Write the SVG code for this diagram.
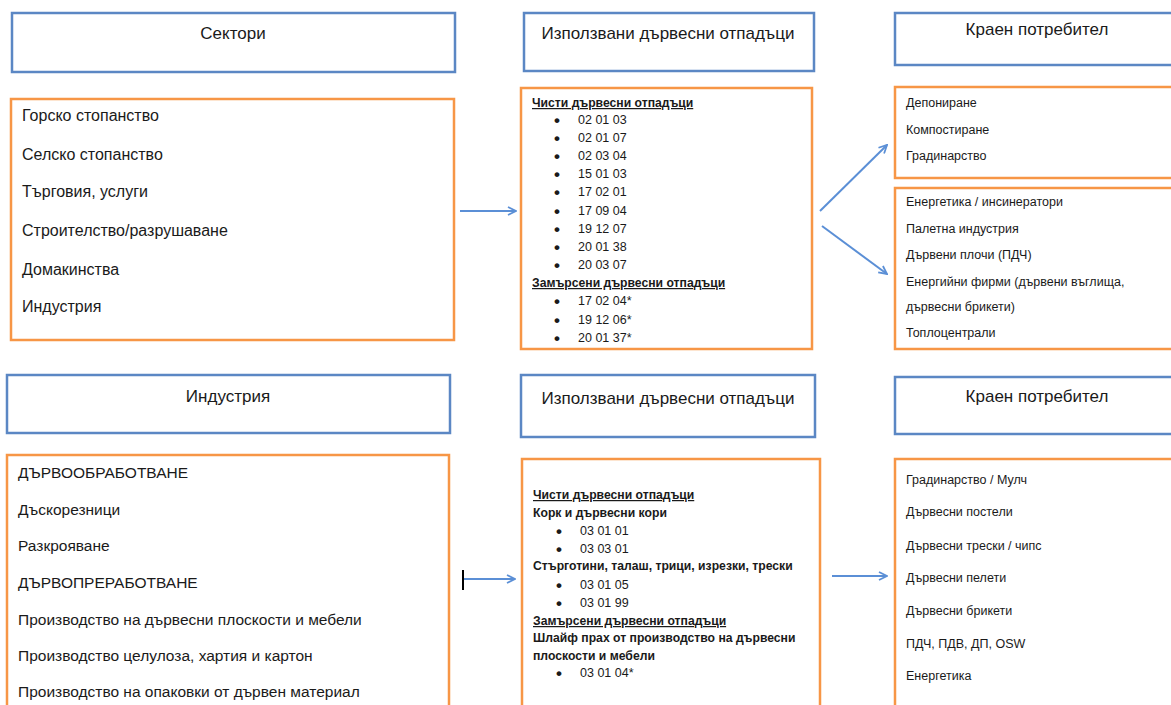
<svg xmlns="http://www.w3.org/2000/svg" width="1171" height="705" viewBox="0 0 1171 705">
<style>
.hdr{fill:#fff;stroke:#5B87C4;stroke-width:2.5}
.box{fill:#fff;stroke:#F79646;stroke-width:2.5}
text{font-family:"Liberation Sans",Arial,sans-serif;fill:#1a1a1a}
.h{font-size:17px;text-anchor:middle}
.l{font-size:16px}
.m{font-size:15.5px}
.s{font-size:12.5px}
.d{font-size:17px;font-weight:bold}
.b{font-size:12.2px;font-weight:bold}
.u{text-decoration:underline}
.c{stroke:#5B8FD6;stroke-width:2;fill:none}
</style>
<defs>
<marker id="ah" viewBox="0 0 10 10" refX="9" refY="5" markerWidth="10" markerHeight="10" markerUnits="userSpaceOnUse" orient="auto">
<path d="M1,1 L9,5 L1,9" fill="none" stroke="#5B8FD6" stroke-width="1.8"/>
</marker>
</defs>
<g id="n-sektori"><rect class="hdr" x="12" y="13" width="443" height="59"/><text class="h" x="233" y="39">Сектори</text></g>
<g id="n-sektori-list"><rect class="box" x="11" y="99" width="443" height="241"/>
<text class="l" x="22" y="121">Горско стопанство</text>
<text class="l" x="22" y="160">Селско стопанство</text>
<text class="l" x="22" y="197">Търговия, услуги</text>
<text class="l" x="22" y="236">Строителство/разрушаване</text>
<text class="l" x="22" y="275">Домакинства</text>
<text class="l" x="22" y="312">Индустрия</text>
</g>
<g id="n-otp1"><rect class="hdr" x="524" y="13" width="290" height="58"/><text class="h" x="668" y="39">Използвани дървесни отпадъци</text></g>
<g id="n-otp1-list"><rect class="box" x="521" y="88" width="291" height="261"/>
<text class="b u" x="532" y="107">Чисти дървесни отпадъци</text>
<text class="d" x="554" y="126">•</text><text class="s" x="578" y="124">02 01 03</text>
<text class="d" x="554" y="144">•</text><text class="s" x="578" y="142">02 01 07</text>
<text class="d" x="554" y="162">•</text><text class="s" x="578" y="160">02 03 04</text>
<text class="d" x="554" y="180">•</text><text class="s" x="578" y="178">15 01 03</text>
<text class="d" x="554" y="198">•</text><text class="s" x="578" y="196">17 02 01</text>
<text class="d" x="554" y="217">•</text><text class="s" x="578" y="215">17 09 04</text>
<text class="d" x="554" y="235">•</text><text class="s" x="578" y="233">19 12 07</text>
<text class="d" x="554" y="253">•</text><text class="s" x="578" y="251">20 01 38</text>
<text class="d" x="554" y="271">•</text><text class="s" x="578" y="269">20 03 07</text>
<text class="b u" x="532" y="287">Замърсени дървесни отпадъци</text>
<text class="d" x="554" y="307">•</text><text class="s" x="578" y="305">17 02 04*</text>
<text class="d" x="554" y="326">•</text><text class="s" x="578" y="324">19 12 06*</text>
<text class="d" x="554" y="344">•</text><text class="s" x="578" y="342">20 01 37*</text>
</g>
<g id="n-potr1"><rect class="hdr" x="895" y="13" width="290" height="52"/><text class="h" x="1037" y="35">Краен потребител</text></g>
<g id="n-potr1a"><rect class="box" x="895" y="87" width="290" height="91"/>
<text class="s" x="906" y="107">Депониране</text>
<text class="s" x="906" y="134">Компостиране</text>
<text class="s" x="906" y="160">Градинарство</text>
</g>
<g id="n-potr1b"><rect class="box" x="895" y="188" width="290" height="161"/>
<text class="s" x="906" y="206">Енергетика / инсинератори</text>
<text class="s" x="906" y="233">Палетна индустрия</text>
<text class="s" x="906" y="259">Дървени плочи (ПДЧ)</text>
<text class="s" x="906" y="286">Енергийни фирми (дървени въглища,</text>
<text class="s" x="906" y="311">дървесни брикети)</text>
<text class="s" x="906" y="337">Топлоцентрали</text>
</g>
<g id="n-industria"><rect class="hdr" x="7" y="375" width="443" height="58"/><text class="h" x="228" y="402">Индустрия</text></g>
<g id="n-industria-list"><rect class="box" x="7" y="455" width="442" height="260"/>
<text class="m" x="18" y="478">ДЪРВООБРАБОТВАНЕ</text>
<text class="m" x="18" y="515">Дъскорезници</text>
<text class="m" x="18" y="551">Разкрояване</text>
<text class="m" x="18" y="588">ДЪРВОПРЕРАБОТВАНЕ</text>
<text class="m" x="18" y="625">Производство на дървесни плоскости и мебели</text>
<text class="m" x="18" y="661">Производство целулоза, хартия и картон</text>
<text class="m" x="18" y="697">Производство на опаковки от дървен материал</text>
</g>
<g id="n-otp2"><rect class="hdr" x="521" y="375" width="294" height="62"/><text class="h" x="668" y="404">Използвани дървесни отпадъци</text></g>
<g id="n-otp2-list"><rect class="box" x="522" y="459" width="298" height="256"/>
<text class="b u" x="533" y="499">Чисти дървесни отпадъци</text>
<text class="b" x="533" y="517">Корк и дървесни кори</text>
<text class="d" x="556" y="537">•</text><text class="s" x="580" y="535">03 01 01</text>
<text class="d" x="556" y="555">•</text><text class="s" x="580" y="553">03 03 01</text>
<text class="b" x="533" y="570">Стърготини, талаш, трици, изрезки, трески</text>
<text class="d" x="556" y="591">•</text><text class="s" x="580" y="589">03 01 05</text>
<text class="d" x="556" y="609">•</text><text class="s" x="580" y="607">03 01 99</text>
<text class="b u" x="533" y="625">Замърсени дървесни отпадъци</text>
<text class="b" x="533" y="642">Шлайф прах от производство на дървесни</text>
<text class="b" x="533" y="660">плоскости и мебели</text>
<text class="d" x="556" y="679">•</text><text class="s" x="580" y="677">03 01 04*</text>
</g>
<g id="n-potr2"><rect class="hdr" x="895" y="377" width="290" height="57"/><text class="h" x="1037" y="402">Краен потребител</text></g>
<g id="n-potr2-list"><rect class="box" x="895" y="459" width="290" height="256"/>
<text class="s" x="906" y="484">Градинарство / Мулч</text>
<text class="s" x="906" y="516">Дървесни постели</text>
<text class="s" x="906" y="550">Дървесни трески / чипс</text>
<text class="s" x="906" y="582">Дървесни пелети</text>
<text class="s" x="906" y="615">Дървесни брикети</text>
<text class="s" x="906" y="648">ПДЧ, ПДВ, ДП, OSW</text>
<text class="s" x="906" y="680">Енергетика</text>
</g>
<g id="connectors">
<line class="c" x1="460" y1="211" x2="516" y2="211" marker-end="url(#ah)"/>
<line class="c" x1="820" y1="211" x2="887" y2="145" marker-end="url(#ah)"/>
<line class="c" x1="822" y1="226" x2="887" y2="274" marker-end="url(#ah)"/>
<line class="c" x1="463" y1="579" x2="515" y2="579" marker-end="url(#ah)"/>
<line x1="463" y1="570" x2="463" y2="590" stroke="#000" stroke-width="2"/>
<line class="c" x1="832" y1="576" x2="887" y2="576" marker-end="url(#ah)"/>
</g>
</svg>
